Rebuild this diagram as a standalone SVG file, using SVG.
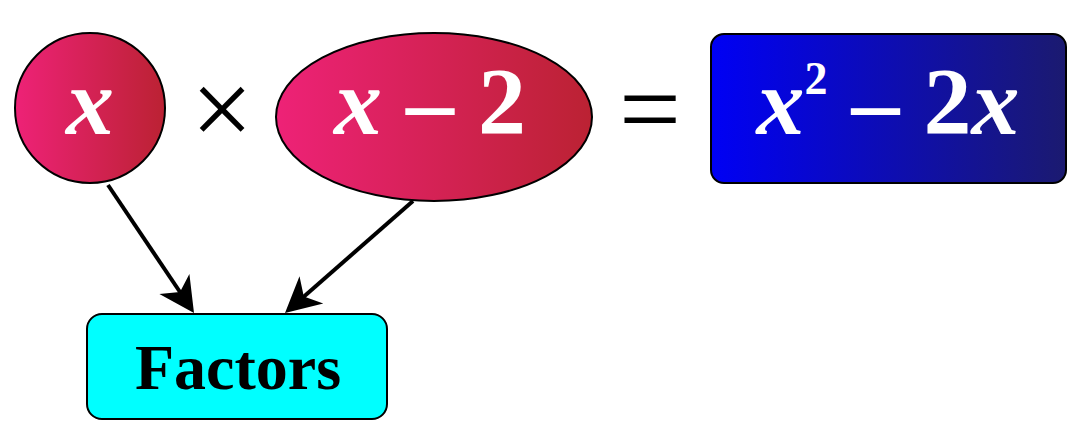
<svg xmlns="http://www.w3.org/2000/svg" width="1087" height="441" viewBox="0 0 1087 441">
<style>
.m{font-family:"Liberation Serif",serif;font-weight:bold;font-style:italic;fill:#fff;font-size:96px;text-anchor:middle}
.r{font-style:normal}
.op{font-family:"Liberation Serif",serif;fill:#000;font-size:110px;text-anchor:middle}
.c{stroke:#000;stroke-width:4;fill:none}
.h{fill:#000}
</style>
<defs>
<linearGradient id="r" x1="0" x2="1"><stop offset="0" stop-color="#ee2277"/><stop offset="1" stop-color="#bb2233"/></linearGradient>
<linearGradient id="b" x1="0" x2="1"><stop offset="0" stop-color="#0000f5"/><stop offset="1" stop-color="#1b1a70"/></linearGradient>
</defs>
<g id="n1"><circle cx="90" cy="108" r="75" fill="url(#r)" stroke="#000" stroke-width="2"/><text class="m" x="90" y="134">x</text></g>
<text class="op" x="222" y="146">×</text>
<g id="n2"><ellipse cx="434" cy="117" rx="158" ry="84" fill="url(#r)" stroke="#000" stroke-width="2"/><text class="m" x="430" y="134">x <tspan class="r">– 2</tspan></text></g>
<text class="op" x="650" y="146">=</text>
<g id="n3"><rect x="711" y="34" width="355" height="149" rx="13" fill="url(#b)" stroke="#000" stroke-width="2"/><text class="m" x="888" y="134">x<tspan class="r" font-size="46" dy="-40">2</tspan><tspan class="r" dy="40"> – 2</tspan>x</text></g>
<g id="n4"><rect x="87" y="314" width="300" height="105" rx="15" fill="#00ffff" stroke="#000" stroke-width="2"/><text x="238" y="389" text-anchor="middle" font-family="Liberation Serif,serif" font-weight="bold" font-size="64">Factors</text></g>
<g id="connectors">
<line class="c" x1="108" y1="185" x2="182" y2="295"/>
<path class="h" d="M194,313 L159.4,294 L180,292 L189.4,274 Z"/>
<line class="c" x1="413" y1="201" x2="300" y2="300"/>
<path class="h" d="M285,313 L299.5,276.3 L303.8,296.5 L323.3,303.5 Z"/>
</g>
</svg>
